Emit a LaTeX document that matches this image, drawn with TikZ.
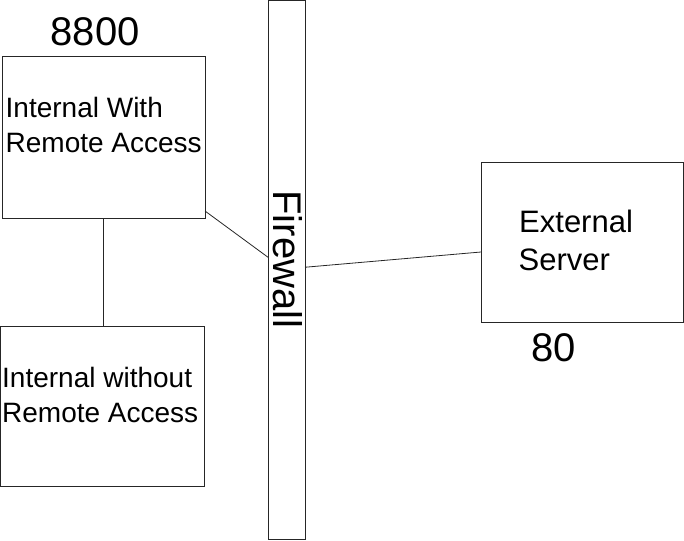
\documentclass[tikz,border=0pt]{standalone}
\usepackage{fontspec}
\setmainfont{Liberation Sans}
\usetikzlibrary{calc}
\begin{document}
\begin{tikzpicture}[x=1pt,y=-1pt,
  box/.style={draw=black!85,line width=1pt,fill=none,inner sep=0pt,outer sep=0pt},
  conn/.style={draw=black!85,line width=0.8pt},
  lblA/.style={inner sep=0pt,anchor=base west,font=\fontsize{28}{28}\selectfont},
  lblB/.style={inner sep=0pt,anchor=base west,font=\fontsize{31}{31}\selectfont},
  lblC/.style={inner sep=0pt,anchor=base west,font=\fontsize{40}{40}\selectfont}]
\useasboundingbox (0,0) rectangle (684,540);
% boxes
\node[box,minimum width=203pt,minimum height=161pt] (b1) at (103.5,137.5) {};
\node[box,minimum width=204pt,minimum height=160pt] (b2) at (102.5,406) {};
\node[box,minimum width=37pt,minimum height=538.5pt] (fw) at (286.5,269.75) {};
\node[box,minimum width=202pt,minimum height=160pt] (ext) at (582,242) {};
% texts
\node[lblA] (t1a) at (5.5,118) {Internal With};
\node[lblA] (t1b) at (5.5,153) {Remote Access};
\node[lblA] (t2a) at (2,387) {Internal without};
\node[lblA] (t2b) at (2,422) {Remote Access};
\node[lblB] (t3a) at (519,232) {External};
\node[lblB] (t3b) at (518.5,270) {Server};
\node[lblC] (p1) at (50.5,46) {8800};
\node[lblC] (p2) at (531.5,361) {80};
\node[lblC,rotate=-90] (fwt) at (273.3,190.3) {Firewall};
% connectors
\draw[conn] ($(b1.south east)+(0,-7)$) -- ($(fw.west)+(0,-12.5)$);
\draw[conn] (b1.south) -- (b1.south |- b2.north);
\draw[conn] ($(fw.east)+(0,-2.5)$) -- ($(ext.west)+(0,10)$);
\end{tikzpicture}
\end{document}
